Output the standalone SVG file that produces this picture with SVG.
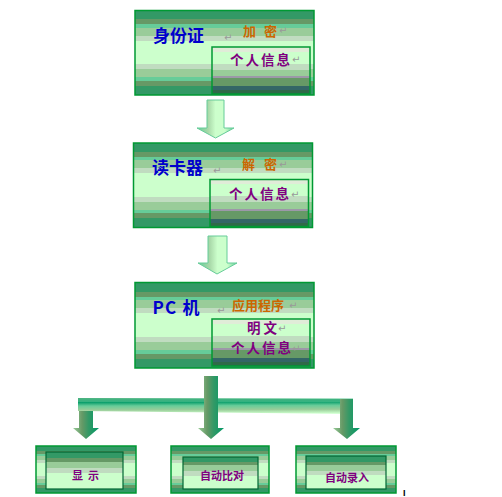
<svg xmlns="http://www.w3.org/2000/svg" width="502" height="497" viewBox="0 0 502 497">
<defs>
<linearGradient id="outer" x1="0" y1="0" x2="0" y2="1">
<stop offset="0" stop-color="#339966"/><stop offset="0.106" stop-color="#339966"/>
<stop offset="0.106" stop-color="#669966"/><stop offset="0.165" stop-color="#669966"/>
<stop offset="0.165" stop-color="#66cc99"/><stop offset="0.204" stop-color="#66cc99"/>
<stop offset="0.204" stop-color="#99cc99"/><stop offset="0.301" stop-color="#99cc99"/>
<stop offset="0.301" stop-color="#c0dcc0"/><stop offset="0.36" stop-color="#c0dcc0"/>
<stop offset="0.36" stop-color="#ccffcc"/><stop offset="0.635" stop-color="#ccffcc"/>
<stop offset="0.635" stop-color="#c0dcc0"/><stop offset="0.694" stop-color="#c0dcc0"/>
<stop offset="0.694" stop-color="#99cc99"/><stop offset="0.792" stop-color="#99cc99"/>
<stop offset="0.792" stop-color="#66cc99"/><stop offset="0.831" stop-color="#66cc99"/>
<stop offset="0.831" stop-color="#669966"/><stop offset="0.89" stop-color="#669966"/>
<stop offset="0.89" stop-color="#339966"/><stop offset="1" stop-color="#339966"/>
</linearGradient>
<linearGradient id="inner" x1="0" y1="0" x2="0" y2="1">
<stop offset="0" stop-color="#e0ecd8"/><stop offset="0.1" stop-color="#e0ecd8"/>
<stop offset="0.1" stop-color="#ccffcc"/><stop offset="0.36" stop-color="#ccffcc"/>
<stop offset="0.36" stop-color="#c0dcc0"/><stop offset="0.48" stop-color="#c0dcc0"/>
<stop offset="0.48" stop-color="#99cc99"/><stop offset="0.625" stop-color="#99cc99"/>
<stop offset="0.625" stop-color="#9c98a8"/><stop offset="0.67" stop-color="#9c98a8"/>
<stop offset="0.67" stop-color="#669966"/><stop offset="0.835" stop-color="#669966"/>
<stop offset="0.835" stop-color="#336666"/><stop offset="0.925" stop-color="#336666"/>
<stop offset="0.925" stop-color="#2f6a48"/><stop offset="1" stop-color="#2f6a48"/>
</linearGradient>
<linearGradient id="small" x1="0" y1="0" x2="0" y2="1">
<stop offset="0" stop-color="#339966"/><stop offset="0.17" stop-color="#339966"/>
<stop offset="0.17" stop-color="#669966"/><stop offset="0.26" stop-color="#669966"/>
<stop offset="0.26" stop-color="#99cc99"/><stop offset="0.44" stop-color="#99cc99"/>
<stop offset="0.44" stop-color="#c0dcc0"/><stop offset="0.58" stop-color="#c0dcc0"/>
<stop offset="0.58" stop-color="#ccffcc"/><stop offset="1" stop-color="#ccffcc"/>
</linearGradient>
<linearGradient id="bigArrow" x1="0" y1="0" x2="1" y2="0">
<stop offset="0" stop-color="#66cc99"/>
<stop offset="0.3" stop-color="#a8d8a8"/>
<stop offset="0.5" stop-color="#ccffcc"/>
<stop offset="0.75" stop-color="#ccffcc"/>
<stop offset="1" stop-color="#66cc99"/>
</linearGradient>
<linearGradient id="branchV" x1="0" y1="0" x2="1" y2="0">
<stop offset="0" stop-color="#99cc99"/>
<stop offset="0.35" stop-color="#669966"/>
<stop offset="0.6" stop-color="#339966"/>
<stop offset="1" stop-color="#009966"/>
</linearGradient>
<linearGradient id="branchH" x1="0" y1="0" x2="0.05" y2="1">
<stop offset="0" stop-color="#339966"/>
<stop offset="0.25" stop-color="#009966"/>
<stop offset="0.5" stop-color="#66cc99"/>
<stop offset="0.75" stop-color="#99cc99"/>
<stop offset="1" stop-color="#ccffcc"/>
</linearGradient>
</defs>
<style>
.ob{fill:url(#outer);stroke:#009933;stroke-width:1.5}
.ib{fill:url(#inner);stroke:#009933;stroke-width:1.5}
.sb{fill:url(#small);stroke:#006633;stroke-width:1.2}
.t{font-family:"Noto Sans CJK SC","Liberation Serif",serif;font-weight:bold}
.blue{fill:#0000cc;font-size:17px}
.org{fill:#cc6600;font-size:13px}
.pur{fill:#800080;font-size:13.5px}
.spur{fill:#800080;font-size:11px}
.rm{fill:#999999;font-size:10px;font-family:"DejaVu Sans",sans-serif}
.ba{fill:url(#bigArrow);stroke:#66cc99;stroke-width:1}
.br{fill:url(#branchV)}
</style>
<rect width="502" height="497" fill="#ffffff"/>

<g id="connectors">
<path class="ba" d="M207,100 H224 V128 H234 L215.5,138 L197,128 H207 Z"/>
<path class="ba" d="M208,236 H227 V263 H237 L217,274 L198,263 H208 Z"/>
<path d="M78,398 L353,399 L353,414 L78,411 Z" fill="url(#branchH)"/>
<rect x="78" y="398" width="275" height="4" fill="#66cc99" opacity="0.5"/>
<path class="br" d="M204,376 H218 V428 H224 L211,439 L198,428 H204 Z"/>
<path class="br" d="M79,411 H93 V428 H99 L86,439 L73,428 H79 Z"/>
<path class="br" d="M340,399 H353 V428 H360 L347,439 L333,428 H340 Z"/>
</g>

<g id="node-idcard">
<rect class="ob" x="135" y="10.5" width="179" height="84.5"/>
<rect class="ib" x="212" y="47" width="98" height="47"/>
<text class="t blue" x="153" y="42">身份证</text>
<text class="rm" x="224" y="41">↵</text>
<text class="t org" x="243" y="36" textLength="34" lengthAdjust="spacing">加 密</text>
<text class="rm" x="279" y="34">↵</text>
<text class="t pur" x="230" y="65" textLength="60" lengthAdjust="spacing">个人信息</text>
<text class="rm" x="292" y="63">↵</text>
</g>

<g id="node-reader">
<rect class="ob" x="133.5" y="143" width="179" height="84.5"/>
<rect class="ib" x="210" y="179.5" width="98.5" height="47"/>
<text class="t blue" x="152" y="174">读卡器</text>
<text class="rm" x="213" y="174">↵</text>
<text class="t org" x="242" y="168.5" textLength="35" lengthAdjust="spacing">解 密</text>
<text class="rm" x="279" y="168">↵</text>
<text class="t pur" x="229" y="198.5" textLength="60" lengthAdjust="spacing">个人信息</text>
<text class="rm" x="291" y="198">↵</text>
</g>

<g id="node-pc">
<rect class="ob" x="135" y="282.5" width="179" height="85.5"/>
<rect class="ib" x="212" y="319" width="98" height="47"/>
<text class="t blue" x="152.5" y="314" textLength="47" lengthAdjust="spacing">PC 机</text>
<text class="rm" x="217" y="314">↵</text>
<text class="t org" x="232" y="310" font-size="14">应用程序</text>
<text class="rm" x="289" y="309">↵</text>
<text class="t pur" x="247" y="332.5" font-size="12" textLength="30" lengthAdjust="spacing">明文</text>
<text class="rm" x="278" y="332">↵</text>
<text class="t pur" x="231" y="353" font-size="12.5" textLength="60" lengthAdjust="spacing">个人信息</text>
<text class="rm" x="292" y="352">↵</text>
</g>

<g id="node-display">
<rect class="ob" x="36" y="446" width="100" height="47"/>
<rect class="sb" x="46" y="452" width="77" height="37"/>
<text class="t spur" x="72" y="480" font-size="12" textLength="27" lengthAdjust="spacing">显 示</text>
</g>

<g id="node-compare">
<rect class="ob" x="171" y="446" width="98" height="47"/>
<rect class="sb" x="183" y="457" width="75" height="32"/>
<text class="t spur" x="200" y="480">自动比对</text>
</g>

<g id="node-entry">
<rect class="ob" x="296" y="446" width="100" height="47"/>
<rect class="sb" x="306" y="456" width="80" height="33"/>
<text class="t spur" x="325" y="481.5">自动录入</text>
</g>

<text x="403" y="496" font-family="Liberation Sans, sans-serif" font-weight="bold" font-size="9" fill="#000000">I</text>
</svg>
